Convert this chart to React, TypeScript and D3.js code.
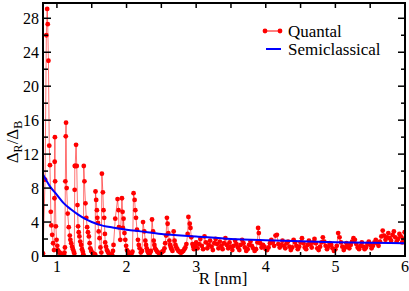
import React from 'react';
import * as d3 from 'd3';

const W = 409;
const H = 291;
const margin = { left: 43, right: 4, top: 3, bottom: 35 };

// quantal ratio, R in nm
const quantalR = [
  0.800, 0.830, 0.848, 0.860, 0.868, 0.878, 0.890, 0.900, 0.912, 0.920, 0.932, 0.945, 0.958,
  0.965, 0.968, 0.971, 0.974, 0.985, 0.995, 1.005, 1.013, 1.025, 1.040, 1.050, 1.060, 1.070, 1.080, 1.090, 1.100, 1.108,
  1.115, 1.121, 1.127, 1.131, 1.140, 1.155, 1.170, 1.185, 1.193, 1.205, 1.218, 1.230, 1.242, 1.250,
  1.255, 1.257, 1.262, 1.275, 1.285, 1.295, 1.304, 1.313, 1.323, 1.335, 1.348, 1.360, 1.372, 1.380,
  1.386, 1.395, 1.410, 1.422, 1.434, 1.446, 1.459, 1.470, 1.480, 1.493, 1.506, 1.520, 1.535, 1.548,
  1.554, 1.564, 1.574, 1.580, 1.590, 1.600, 1.612, 1.625, 1.638,
  1.646, 1.660, 1.669, 1.679, 1.689, 1.693, 1.705, 1.718, 1.730, 1.744, 1.755, 1.765, 1.778, 1.790, 1.805,
  1.813, 1.838, 1.871, 1.885, 1.890, 1.910, 1.934, 1.943, 1.948, 1.957, 1.970, 1.982, 1.994, 2.006, 2.020, 2.032, 2.046, 2.060, 2.072, 2.085,
  2.101, 2.116, 2.126, 2.136, 2.150, 2.164, 2.176, 2.188, 2.205, 2.222,
  2.237, 2.255, 2.270, 2.280, 2.290, 2.300, 2.310, 2.320, 2.330, 2.340, 2.350,
  2.366, 2.381, 2.390, 2.400, 2.410, 2.425, 2.440, 2.455, 2.470, 2.485, 2.500, 2.515, 2.530, 2.545, 2.555, 2.568,
  2.580, 2.590, 2.600, 2.615, 2.625, 2.637, 2.648, 2.660,
  2.677, 2.690, 2.703, 2.716, 2.730, 2.745, 2.760, 2.774, 2.787, 2.800, 2.815, 2.830, 2.845, 2.860, 2.878,
  2.889, 2.908, 2.918, 2.930, 2.947, 2.958, 2.968, 2.985,
  3.000, 3.020, 3.040, 3.060, 3.080, 3.100, 3.120, 3.140, 3.160, 3.180,
  3.200, 3.220, 3.240, 3.260, 3.280, 3.300, 3.320, 3.340, 3.360, 3.380,
  3.400, 3.420, 3.440, 3.460, 3.480, 3.500, 3.520, 3.540, 3.560, 3.580,
  3.600, 3.620, 3.640, 3.660, 3.680, 3.700, 3.720, 3.740, 3.760, 3.780,
  3.800, 3.820, 3.840, 3.860, 3.880, 3.890, 3.900, 3.920, 3.940, 3.960, 3.980,
  4.000, 4.020, 4.040, 4.060, 4.080, 4.100, 4.120, 4.140, 4.160, 4.180,
  4.200, 4.220, 4.240, 4.260, 4.280, 4.300, 4.320, 4.340, 4.360, 4.380,
  4.400, 4.420, 4.440, 4.460, 4.480, 4.500, 4.520, 4.540, 4.560, 4.580,
  4.600, 4.620, 4.640, 4.660, 4.680, 4.700, 4.720, 4.740, 4.760, 4.780,
  4.800, 4.820, 4.840, 4.860, 4.880, 4.900, 4.920, 4.940, 4.960, 4.980,
  5.000, 5.020, 5.040, 5.060, 5.080, 5.100, 5.120, 5.140, 5.160, 5.180,
  5.200, 5.220, 5.240, 5.260, 5.280, 5.300, 5.320, 5.340, 5.360, 5.380,
  5.400, 5.420, 5.440, 5.460, 5.480, 5.500, 5.520, 5.540, 5.560, 5.580,
  5.600, 5.620, 5.640, 5.660, 5.680, 5.700, 5.720, 5.740, 5.760, 5.780,
  5.800, 5.820, 5.840, 5.860, 5.880, 5.900, 5.920, 5.940, 5.960, 5.980, 5.995,
];
const quantalRatio = [
  0.3, 9.0, 26.0, 29.1, 27.3, 23.0, 13.0, 10.7, 5.2, 3.6, 2.5, 1.5, 0.7,
  6.8, 11.1, 14.0, 8.8, 3.5, 1.9, 1.2, 0.7, 0.5, 0.4, 0.3, 0.2, 0.15, 0.1, 0.1, 0.2, 0.4,
  1.0, 8.8, 14.1, 15.7, 8.0, 5.0, 3.4, 2.4, 1.9, 1.5, 1.1, 0.8, 0.5, 0.3,
  7.8, 10.6, 10.6, 13.1, 10.6, 6.0, 3.5, 2.8, 2.3, 1.7, 1.3, 0.8, 0.5, 0.2,
  10.6, 8.8, 6.2, 4.5, 3.4, 2.8, 2.3, 1.5, 0.9, 0.6, 0.4, 0.3, 0.2, 0.2,
  7.6, 6.6, 5.4, 4.5, 3.9, 2.9, 2.1, 1.0, 0.4,
  9.7, 7.5, 5.4, 4.5, 2.6, 1.6, 1.1, 0.7, 0.5, 0.3, 0.2, 0.1, 0.1, 0.2, 0.6,
  1.3, 4.4, 6.7, 5.4, 3.4, 1.9, 6.8, 5.2, 3.3, 4.4, 2.7, 1.9, 1.2, 0.7, 0.5, 0.3, 0.2, 0.2, 0.3, 0.5,
  7.4, 6.6, 5.4, 4.5, 3.1, 1.9, 1.3, 0.9, 0.4, 0.6,
  4.0, 2.9, 1.8, 1.3, 0.9, 0.6, 0.4, 0.3, 0.3, 0.4, 0.6,
  4.3, 2.9, 1.8, 1.3, 0.9, 0.7, 0.5, 0.4, 0.3, 0.3, 0.4, 0.5, 0.6, 0.9, 1.5, 2.4,
  4.5, 3.8, 2.7, 1.8, 1.3, 1.0, 0.8, 0.6,
  2.9, 1.8, 1.3, 1.0, 0.8, 0.6, 0.5, 0.4, 0.4, 0.5, 0.6, 0.8, 1.0, 1.4, 2.6,
  4.6, 3.8, 3.3, 2.2, 1.4, 1.1, 0.8, 1.2,
  1.6, 0.9, 1.4, 2.0, 1.2, 0.8, 2.3, 1.6, 0.9, 1.3,
  1.8, 1.1, 0.7, 1.5, 2.0, 1.4, 0.9, 1.7, 1.2, 0.8,
  1.5, 2.1, 1.3, 0.9, 1.6, 1.1, 0.7, 1.2, 1.8, 1.4,
  1.0, 0.7, 1.3, 1.9, 1.5, 1.0, 0.6, 0.8, 1.3, 1.7,
  1.2, 0.9, 0.6, 0.8, 1.6, 3.3, 2.7, 1.5, 1.0, 1.3, 1.1,
  0.8, 0.7, 1.0, 1.5, 1.9, 1.6, 1.2, 2.4, 2.5, 1.4,
  1.0, 1.3, 1.8, 1.2, 0.9, 1.5, 1.7, 1.1, 0.7, 1.0,
  1.9, 1.6, 1.2, 0.8, 1.1, 1.6, 2.1, 1.5, 1.0, 0.8,
  1.3, 1.8, 1.4, 1.0, 1.6, 2.0, 1.5, 0.9, 0.7, 1.1,
  1.6, 2.2, 1.7, 1.2, 0.8, 1.1, 1.5, 1.3, 0.9, 0.6,
  0.8, 1.2, 2.7, 2.2, 1.6, 1.1, 0.7, 1.0, 1.5, 1.2,
  0.9, 1.3, 1.7, 2.1, 1.9, 1.4, 1.0, 0.8, 1.2, 1.6,
  1.1, 0.8, 1.0, 1.4, 1.7, 1.3, 0.9, 1.2, 1.6, 1.9,
  1.5, 1.2, 1.7, 2.3, 3.0, 2.4, 1.9, 2.2, 2.7, 2.1,
  1.8, 2.5, 2.9, 2.2, 1.7, 2.0, 2.6, 2.3, 1.6, 2.0,
  2.8, 2.4, 1.9, 2.2, 2.9, 2.5, 1.8, 2.1, 1.4, 0.9, 1.6,
];

// semiclassical curve
const semiR = [0.8, 0.9, 1.0, 1.1, 1.2, 1.3, 1.4, 1.5, 1.6, 1.8, 2.0, 2.2, 2.5, 3.0, 3.5, 4.0, 4.5, 5.0, 5.5, 6.0];
const semiRatio = [9.6, 8.2, 7.2, 6.2, 5.5, 4.9, 4.4, 4.0, 3.7, 3.35, 3.1, 2.9, 2.6, 2.3, 2.0, 1.85, 1.75, 1.63, 1.56, 1.5];

const xTicks = [1, 2, 3, 4, 5, 6];
const yTicks = [0, 4, 8, 12, 16, 20, 24, 28];

const font = '"Liberation Serif", "DejaVu Serif", serif';

export default function App() {
  const x = d3.scaleLinear().domain([0.8, 6]).range([margin.left, W - margin.right]);
  const y = d3.scaleLinear().domain([0, 29.8]).range([H - margin.bottom, margin.top]);

  const quantal = quantalR.map((r, i) => [r, quantalRatio[i]] as [number, number]);
  const semi = semiR.map((r, i) => [r, semiRatio[i]] as [number, number]);

  const line = d3.line<[number, number]>().x(d => x(d[0])).y(d => y(d[1]));
  const smooth = d3.line<[number, number]>().x(d => x(d[0])).y(d => y(d[1])).curve(d3.curveMonotoneX);

  const x0 = x.range()[0], x1 = x.range()[1];
  const y0 = y.range()[0], y1 = y.range()[1];

  const xMinor = d3.range(1, 6.01, 0.5);
  const yMinor = d3.range(0, 29, 2);

  return (
    <svg width={W} height={H} style={{ position: 'absolute', left: 0, top: 0, background: '#fff' }}>
      <defs>
        <clipPath id="plot">
          <rect x={x0} y={y1} width={x1 - x0} height={y0 - y1} />
        </clipPath>
      </defs>
      <g clipPath="url(#plot)">
        <path d={line(quantal) || ''} fill="none" stroke="#ff0000" strokeOpacity={0.55} strokeWidth={1} />
        {quantal.map((d, i) => (
          <circle key={i} cx={x(d[0])} cy={y(d[1])} r={2.4} fill="#ff0000" />
        ))}
        <path d={smooth(semi) || ''} fill="none" stroke="#0000ff" strokeWidth={2} />
      </g>

      {/* ticks */}
      <g stroke="#000" strokeWidth={1.5}>
        {xMinor.map(t => {
          const major = Number.isInteger(t);
          return (
            <g key={'x' + t}>
              <line x1={x(t)} x2={x(t)} y1={y0} y2={y0 - (major ? 7 : 4)} />
              <line x1={x(t)} x2={x(t)} y1={y1} y2={y1 + 5} />
            </g>
          );
        })}
        {yMinor.map(t => {
          const major = t % 4 === 0;
          return (
            <g key={'y' + t}>
              <line x1={x0} x2={x0 + (major ? 8 : 5)} y1={y(t)} y2={y(t)} />
              <line x1={x1} x2={x1 - (major ? 7 : 4)} y1={y(t)} y2={y(t)} />
            </g>
          );
        })}
      </g>
      <rect x={x0} y={y1} width={x1 - x0} height={y0 - y1} fill="none" stroke="#000" strokeWidth={2} />

      <g fontFamily={font} fontSize={16} fill="#000">
        {xTicks.map(t => (
          <text key={t} x={x(t)} y={y0 + 16} textAnchor="middle">{t}</text>
        ))}
        {yTicks.map(t => (
          <text key={t} x={x0 - 4} y={y(t) + 5.5} textAnchor="end">{t}</text>
        ))}
        <text x={223} y={284} textAnchor="middle" fontSize={17}>R [nm]</text>
        <text transform="translate(18,142) rotate(-90)" textAnchor="middle" fontSize={17}>
          Δ<tspan dy={4} fontSize={12}>R</tspan><tspan dy={-4}>/Δ</tspan><tspan dy={4} fontSize={12}>B</tspan>
        </text>
      </g>

      {/* legend */}
      <g fontFamily={font} fontSize={17}>
        <line x1={265} x2={280} y1={31} y2={31} stroke="#ff0000" strokeWidth={1} />
        <circle cx={265} cy={31} r={2.4} fill="#ff0000" />
        <circle cx={280} cy={31} r={2.4} fill="#ff0000" />
        <text x={288} y={37}>Quantal</text>
        <line x1={266} x2={281} y1={49} y2={49} stroke="#0000ff" strokeWidth={2} />
        <text x={288} y={55}>Semiclassical</text>
      </g>
    </svg>
  );
}
